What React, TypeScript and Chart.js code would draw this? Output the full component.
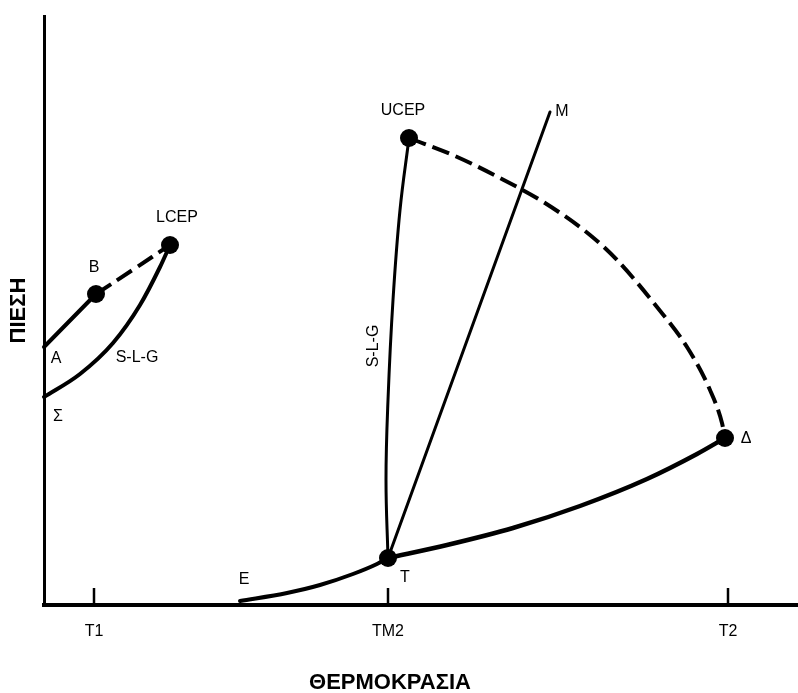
import React, { useEffect, useRef } from "react";
import { Chart, registerables } from "chart.js";

Chart.register(...registerables);

const FONT = "'Liberation Sans', Arial, Helvetica, sans-serif";

// Temperature axis ticks (schematic units)
const tempTickValues = [50, 344, 684];
const tempTickLabels = ["T1", "TM2", "T2"];

// Curves (x = temperature, y = pressure, schematic units)
const curveAB = [{ x: 0, y: 258 }, { x: 52, y: 311 }];
const curveBLcep = [{ x: 52, y: 311 }, { x: 90, y: 336 }, { x: 126, y: 360 }];
const curveSigmaLcep = [
  { x: 0, y: 208 }, { x: 36, y: 231 }, { x: 69, y: 262 },
  { x: 96, y: 300 }, { x: 116, y: 338 }, { x: 126, y: 360 },
];
const curveUcepT = [
  { x: 365, y: 467 }, { x: 356, y: 395 }, { x: 349, y: 305 },
  { x: 344, y: 205 }, { x: 342, y: 125 }, { x: 344, y: 47 },
];
const lineTM = [{ x: 344, y: 47 }, { x: 506, y: 493 }];
const curveUcepDelta = [
  { x: 365, y: 467 }, { x: 411, y: 449 }, { x: 456, y: 427 }, { x: 501, y: 402 },
  { x: 546, y: 370 }, { x: 573, y: 345 }, { x: 613, y: 298 }, { x: 643, y: 258 },
  { x: 666, y: 215 }, { x: 678, y: 182 }, { x: 681, y: 167 },
];
const curveTDelta = [
  { x: 344, y: 47 }, { x: 403, y: 60 }, { x: 469, y: 77 }, { x: 536, y: 99 },
  { x: 603, y: 126 }, { x: 653, y: 151 }, { x: 681, y: 167 },
];
const curveET = [
  { x: 196, y: 4 }, { x: 243, y: 12 }, { x: 276, y: 20 },
  { x: 309, y: 31 }, { x: 333, y: 41 }, { x: 344, y: 47 },
];
// Marked points: B, LCEP, UCEP, Δ, T
const markedPoints = [
  { x: 52, y: 311 }, { x: 126, y: 360 }, { x: 365, y: 467 },
  { x: 681, y: 167 }, { x: 344, y: 47 },
];

// Text annotations (anchored in data units)
const noteTexts = ["LCEP", "B", "A", "Σ", "S-L-G", "UCEP", "M", "Δ", "T", "E"];
const noteX = [133, 50, 12, 14, 93, 359, 518, 702, 361, 200];
const noteY = [387, 337, 246, 188, 247, 494, 493, 166, 27, 25];
const verticalNoteText = "S-L-G";
const verticalNoteX = 330;
const verticalNoteY = 259;

const xAxisTitle = "ΘΕΡΜΟΚΡΑΣΙΑ";
const xAxisTitleCenter = 346;
const yAxisTitle = "ΠΙΕΣΗ";

const xMin = 0, xMax = 754, yMin = 0, yMax = 589;

const annotationsPlugin = {
  id: "phaseAnnotations",
  afterDraw(chart: any) {
    const { ctx, scales } = chart;
    const xs = scales.x, ys = scales.y;
    ctx.save();
    // inward tick marks
    ctx.strokeStyle = "#000";
    ctx.lineWidth = 2.5;
    tempTickValues.forEach((v) => {
      const px = xs.getPixelForValue(v);
      ctx.beginPath();
      ctx.moveTo(px, xs.top);
      ctx.lineTo(px, xs.top - 17);
      ctx.stroke();
    });
    // labels
    ctx.fillStyle = "#000";
    ctx.font = `16px ${FONT}`;
    ctx.textAlign = "center";
    ctx.textBaseline = "middle";
    noteTexts.forEach((t, i) => {
      ctx.fillText(t, xs.getPixelForValue(noteX[i]), ys.getPixelForValue(noteY[i]));
    });
    ctx.save();
    ctx.translate(xs.getPixelForValue(verticalNoteX), ys.getPixelForValue(verticalNoteY));
    ctx.rotate(-Math.PI / 2);
    ctx.fillText(verticalNoteText, 0, 0);
    ctx.restore();
    // x axis title
    ctx.font = `bold 22px ${FONT}`;
    ctx.fillText(xAxisTitle, xs.getPixelForValue(xAxisTitleCenter), xs.bottom - 10);
    ctx.restore();
  },
};

function lineDs(data: any[], width: number, dash: number[] = [], tension = 0.4, monotone = false) {
  return {
    data,
    showLine: true,
    borderColor: "#000",
    backgroundColor: "#000",
    borderWidth: width,
    borderDash: dash,
    borderCapStyle: dash.length ? "butt" : "round",
    borderJoinStyle: "round",
    pointRadius: 0,
    pointHoverRadius: 0,
    tension,
    cubicInterpolationMode: monotone ? "monotone" : "default",
    fill: false,
    clip: false,
  };
}

export default function App() {
  const ref = useRef<HTMLCanvasElement | null>(null);
  useEffect(() => {
    if (!ref.current) return;
    const chart = new Chart(ref.current, {
      type: "scatter",
      data: {
        datasets: [
          {
            data: markedPoints,
            showLine: false,
            pointRadius: 9,
            pointHoverRadius: 9,
            pointBackgroundColor: "#000",
            pointBorderColor: "#000",
            pointBorderWidth: 0,
            clip: false,
          } as any,
          lineDs(curveAB, 4, [], 0),
          lineDs(curveBLcep, 4, [18, 7], 0.4),
          lineDs(curveSigmaLcep, 4, [], 0.4, true),
          lineDs(curveUcepT, 3, [], 0.4),
          lineDs(lineTM, 3, [], 0),
          lineDs(curveUcepDelta, 4, [18, 7], 0.4, true),
          lineDs(curveTDelta, 4.5, [], 0.4, true),
          lineDs(curveET, 4, [], 0.4, true),
        ] as any,
      },
      options: {
        responsive: false,
        animation: false,
        devicePixelRatio: 1,
        events: [],
        layout: { padding: { top: 16, right: 0, left: 0, bottom: 0 }, autoPadding: false },
        plugins: { legend: { display: false }, tooltip: { enabled: false }, title: { display: false } },
        scales: {
          x: {
            type: "linear",
            position: "bottom",
            min: xMin,
            max: xMax,
            afterBuildTicks: (s: any) => {
              s.ticks = tempTickValues.map((v) => ({ value: v }));
            },
            ticks: {
              autoSkip: false,
              maxRotation: 0,
              padding: 17,
              color: "#000",
              font: { size: 16, family: FONT },
              callback: (v: any) => tempTickLabels[tempTickValues.indexOf(Number(v))] ?? "",
            },
            grid: { display: true, drawOnChartArea: false, drawTicks: false },
            border: { display: true, width: 4, color: "#000" },
            afterFit: (s: any) => { s.height = 88; s.paddingLeft = 0; s.paddingRight = 0; },
          },
          y: {
            type: "linear",
            position: "left",
            min: yMin,
            max: yMax,
            ticks: { display: false },
            grid: { display: true, drawOnChartArea: false, drawTicks: false },
            border: { display: true, width: 3, color: "#000" },
            title: {
              display: true,
              text: yAxisTitle,
              color: "#000",
              font: { size: 22, weight: "bold", family: FONT },
              padding: { top: 6, bottom: 0 },
            },
            afterFit: (s: any) => { s.width = 44; s.paddingTop = 0; s.paddingBottom = 0; },
          },
        },
      } as any,
      plugins: [annotationsPlugin],
    });
    return () => chart.destroy();
  }, []);
  return (
    <div style={{ position: "fixed", left: 0, top: 0, width: 798, height: 693, background: "#fff" }}>
      <canvas ref={ref} width={798} height={693} style={{ display: "block" }} />
    </div>
  );
}
